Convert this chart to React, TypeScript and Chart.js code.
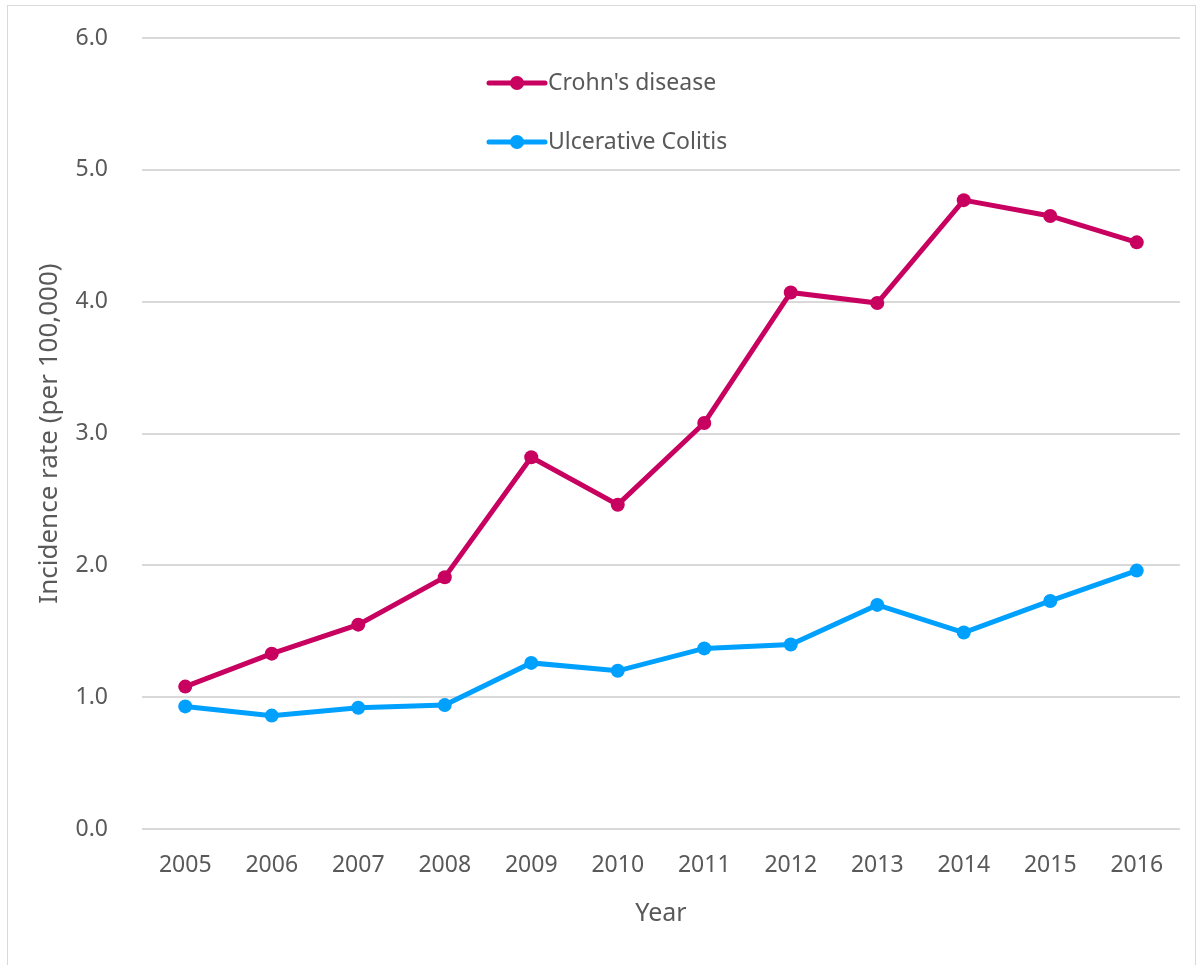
import React, { useEffect, useRef } from "react";
import { Chart, registerables } from "chart.js";

Chart.register(...registerables);

const years = ["2005", "2006", "2007", "2008", "2009", "2010", "2011", "2012", "2013", "2014", "2015", "2016"];
const crohnsValues = [1.08, 1.33, 1.55, 1.91, 2.82, 2.46, 3.08, 4.07, 3.99, 4.77, 4.65, 4.45];
const ucValues = [0.93, 0.86, 0.92, 0.94, 1.26, 1.2, 1.37, 1.4, 1.7, 1.49, 1.73, 1.96];
const seriesNames = ["Crohn's disease", "Ulcerative Colitis"];
const yTicks = [0, 1, 2, 3, 4, 5, 6];

const FONT = "'Noto Sans', 'Open Sans', sans-serif";
const TEXT = "#595959";
const CROHN = "#C8005F";
const UC = "#00A0FF";

const framePlugin = {
  id: "frame",
  beforeDraw(chart: any) {
    const { ctx, width, height } = chart;
    ctx.save();
    ctx.fillStyle = "#ffffff";
    ctx.fillRect(0, 0, width, height);
    ctx.strokeStyle = "#D9D9D9";
    ctx.lineWidth = 1;
    ctx.strokeRect(7.5, 5.5, width - 9, height + 20);
    ctx.restore();
  },
};

const legendPlugin = {
  id: "insideLegend",
  afterDraw(chart: any) {
    const { ctx } = chart;
    const x0 = 489;
    const y0 = 83;
    const gap = 59;
    ctx.save();
    chart.data.datasets.forEach((ds: any, i: number) => {
      const y = y0 + i * gap;
      ctx.strokeStyle = ds.borderColor;
      ctx.lineWidth = 5;
      ctx.lineCap = "round";
      ctx.beginPath();
      ctx.moveTo(x0, y);
      ctx.lineTo(x0 + 56, y);
      ctx.stroke();
      ctx.fillStyle = ds.borderColor;
      ctx.beginPath();
      ctx.arc(x0 + 28, y, 7, 0, Math.PI * 2);
      ctx.fill();
      ctx.fillStyle = TEXT;
      ctx.font = `23px ${FONT}`;
      ctx.textBaseline = "middle";
      ctx.textAlign = "left";
      ctx.fillText(ds.label, x0 + 59, y);
    });
    ctx.restore();
  },
};

export default function App() {
  const ref = useRef<HTMLCanvasElement>(null);
  useEffect(() => {
    if (!ref.current) return;
    const chart = new Chart(ref.current, {
      type: "line",
      data: {
        labels: years,
        datasets: [
          {
            label: seriesNames[0],
            data: crohnsValues,
            borderColor: CROHN,
            backgroundColor: CROHN,
            borderWidth: 5,
            pointRadius: 7,
            pointHoverRadius: 7,
            pointBorderWidth: 0,
            tension: 0,
          },
          {
            label: seriesNames[1],
            data: ucValues,
            borderColor: UC,
            backgroundColor: UC,
            borderWidth: 5,
            pointRadius: 7,
            pointHoverRadius: 7,
            pointBorderWidth: 0,
            tension: 0,
          },
        ],
      },
      options: {
        responsive: false,
        animation: false,
        layout: { padding: { top: 38, right: 17, left: 0, bottom: 0 } },
        plugins: {
          legend: { display: false },
          tooltip: { enabled: false },
        },
        scales: {
          x: {
            offset: true,
            grid: { display: false, drawTicks: false },
            border: { display: false },
            ticks: { color: TEXT, font: { family: FONT, size: 23 }, padding: 23, maxRotation: 0 },
            title: {
              display: true,
              text: "Year",
              color: TEXT,
              font: { family: FONT, size: 25 },
              padding: { top: 0, bottom: 36 },
            },
            afterFit(scale: any) {
              scale.height = 136;
              scale.paddingLeft = 0;
              scale.paddingRight = 0;
            },
          },
          y: {
            min: 0,
            max: 6,
            afterBuildTicks(scale: any) {
              scale.ticks = yTicks.map((v) => ({ value: v }));
            },
            grid: { color: "#D9D9D9", lineWidth: 2, drawTicks: false },
            border: { display: false },
            ticks: {
              color: TEXT,
              font: { family: FONT, size: 23 },
              padding: 34,
              callback: (v: any) => Number(v).toFixed(1),
            },
            title: {
              display: true,
              text: "Incidence rate (per 100,000)",
              color: TEXT,
              font: { family: FONT, size: 26 },
              padding: { top: 34, bottom: 0 },
            },
            afterFit(scale: any) {
              scale.width = 142;
              scale.paddingTop = 0;
              scale.paddingBottom = 0;
            },
          },
        },
      },
      plugins: [framePlugin, legendPlugin],
    });
    return () => chart.destroy();
  }, []);
  return (
    <div style={{ position: "absolute", left: 0, top: 0, width: 1197, height: 965 }}>
      <canvas ref={ref} width={1197} height={965} style={{ display: "block", width: 1197, height: 965 }} />
    </div>
  );
}
